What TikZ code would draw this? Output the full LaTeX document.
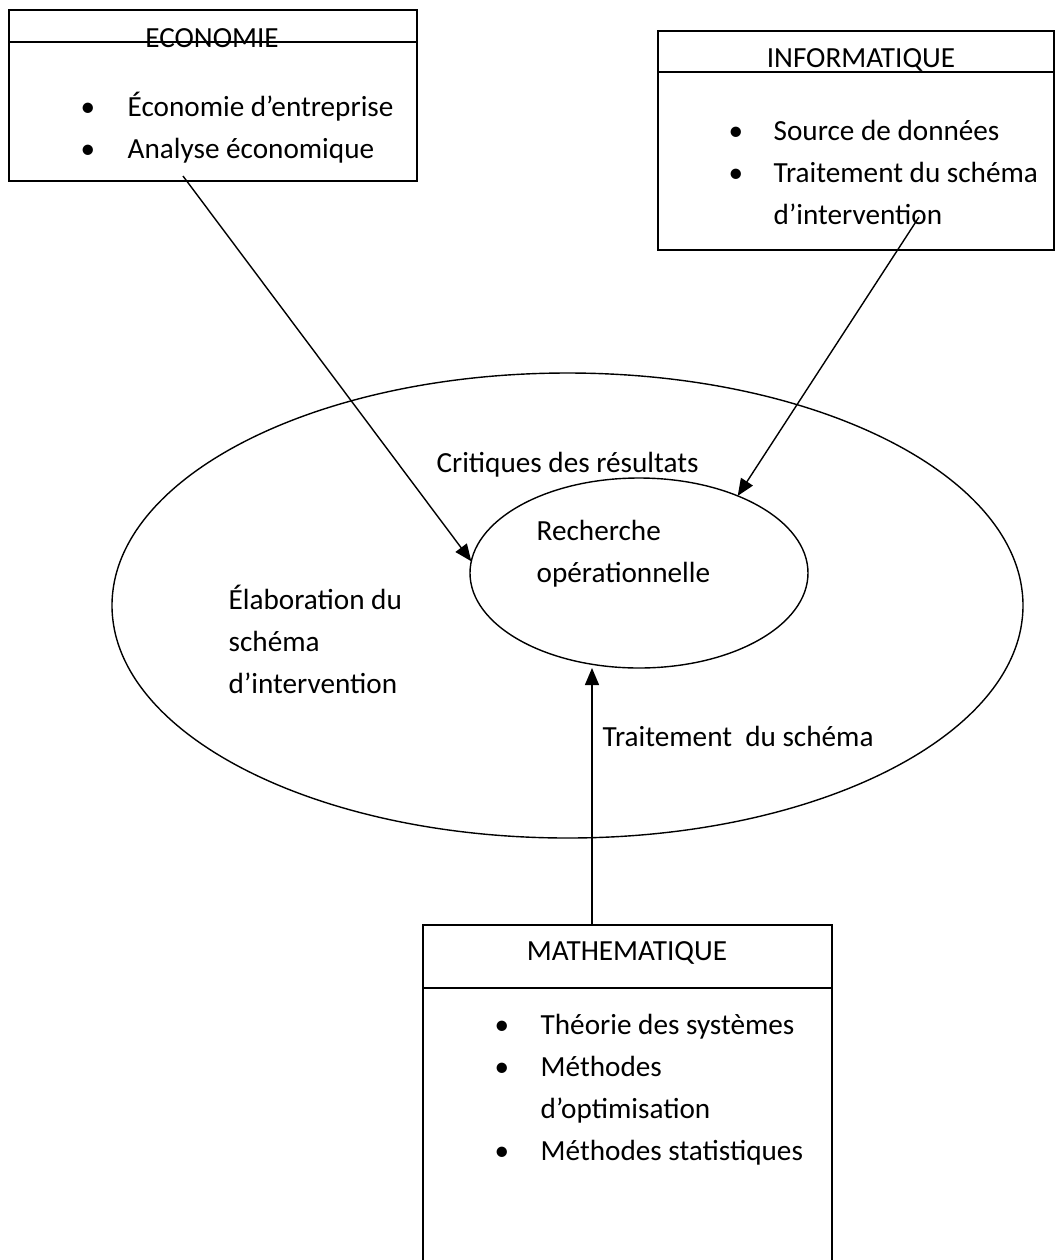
\documentclass[tikz,border=0pt]{standalone}
\usepackage{fontspec}
\setmainfont{Carlito}
\usetikzlibrary{arrows.meta,shapes.geometric}

\newcommand{\puce}{\textbullet}

\begin{document}
\begin{tikzpicture}[x=0.5pt,y=-0.5pt,line width=0.7pt,
		font=\fontsize{14.6}{21}\selectfont,
		boite/.style={draw,rectangle,inner sep=0,outer sep=0},
		rond/.style={draw,ellipse,inner sep=0,outer sep=0},
		titre/.style={inner sep=0},
		liste/.style={anchor=west,inner sep=0,align=left},
		fleche/.style={-{Triangle[length=8.5pt,width=7pt]}}]
			\clip (0,0) rectangle (1055,1260);
			
			% les trois disciplines
			\node[boite,minimum width=204pt,minimum height=85.5pt] (eco) at (213,95.5) {};
			\draw (9,42) -- (417,42);
			\node[titre] (ecot) at (212,38) {ECONOMIE};
			\node[liste] (ecol) at (80,129) {\begin{tabular}{@{}p{23.5pt}@{}l@{}}
					\puce & Économie d’entreprise\\
					\puce & Analyse économique
				\end{tabular}};
			
			\node[boite,minimum width=198pt,minimum height=109.5pt] (info) at (856,140.5) {};
			\draw (658,72) -- (1054,72);
			\node[titre] (infot) at (861,60) {INFORMATIQUE};
			\node[liste] (infol) at (728,174) {\begin{tabular}{@{}p{22.5pt}@{}l@{}}
					\puce & Source de données\\
					\puce & Traitement du schéma\\
					& d’intervention
				\end{tabular}};
			
			\node[boite,minimum width=204.5pt,minimum height=177.5pt] (math) at (627.5,1102.5) {};
			\draw (423,988) -- (832,988);
			\node[titre] (matht) at (627,953) {MATHEMATIQUE};
			\node[liste] (mathl) at (494,1089) {\begin{tabular}{@{}p{23pt}@{}l@{}}
					\puce & Théorie des systèmes\\
					\puce & Méthodes\\
					& d’optimisation\\
					\puce & Méthodes statistiques
				\end{tabular}};
			
			% les deux ellipses
			\node[rond,minimum width=455.5pt,minimum height=232.5pt] (cadre) at (567.5,605.5) {};
			\node[rond,minimum width=169pt,minimum height=95pt] (ro) at (639,573) {};
			\node[liste] (rot) at (536,554) {Recherche\\opérationnelle};
			\node[titre] (crit) at (567.5,465) {Critiques des résultats};
			\node[liste] (elab) at (228,639) {Élaboration du\\schéma\\d’intervention};
			\node[liste] (trait) at (602,736) {Traitement\ \ du schéma};
			
			\coordinate (ecodep) at (183,176);
			\coordinate (infodep) at (919,217);
			\coordinate (mathdep) at (592,925);
			\draw[fleche] (ecodep) -- (ro.176);
			\draw[fleche] (infodep) -- (ro.38);
			\draw[fleche] (mathdep) -- (ro.south -| mathdep);
		\end{tikzpicture}
\end{document}
